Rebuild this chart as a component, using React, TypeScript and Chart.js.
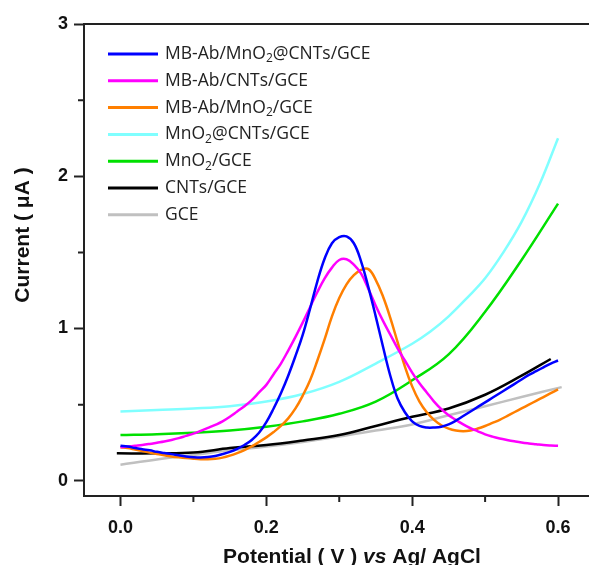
import React, { useEffect, useRef } from "react";
import { Chart, registerables } from "chart.js";

Chart.register(...registerables);

// ---- Data ----
const potentialFine = [
  0.0, 0.01, 0.02, 0.03, 0.04, 0.05, 0.06, 0.07, 0.08, 0.09,
  0.1, 0.11, 0.12, 0.13, 0.14, 0.15, 0.16, 0.17, 0.18, 0.19,
  0.2, 0.21, 0.22, 0.23, 0.24, 0.25, 0.26, 0.27, 0.28, 0.29,
  0.3, 0.31, 0.32, 0.33, 0.34, 0.35, 0.36, 0.37, 0.38, 0.39,
  0.4, 0.41, 0.42, 0.43, 0.44, 0.45, 0.46, 0.47, 0.48, 0.49,
  0.5, 0.51, 0.52, 0.53, 0.54, 0.55, 0.56, 0.57, 0.58, 0.59, 0.6,
];

const mbAbMnO2CntsValues = [
  0.23, 0.225, 0.215, 0.207, 0.2, 0.19, 0.182, 0.175, 0.167, 0.16,
  0.155, 0.153, 0.156, 0.163, 0.175, 0.19, 0.21, 0.235, 0.268, 0.315,
  0.385, 0.475, 0.575, 0.69, 0.82, 0.96, 1.13, 1.31, 1.46, 1.56,
  1.6, 1.605, 1.56, 1.44, 1.27, 1.08, 0.88, 0.69, 0.54, 0.45,
  0.39, 0.36, 0.35, 0.35, 0.355, 0.37, 0.395, 0.425, 0.455, 0.485,
  0.515, 0.545, 0.575, 0.605, 0.635, 0.665, 0.695, 0.72, 0.745, 0.77, 0.79,
];

const mbAbCntsValues = [
  0.22, 0.225, 0.23, 0.235, 0.242, 0.25, 0.258, 0.268, 0.28, 0.295,
  0.31, 0.328, 0.347, 0.367, 0.39, 0.42, 0.455, 0.49, 0.53, 0.58,
  0.63, 0.7, 0.77, 0.855, 0.945, 1.04, 1.14, 1.24, 1.33, 1.4,
  1.45, 1.455, 1.42, 1.36, 1.26, 1.15, 1.05, 0.96, 0.87, 0.79,
  0.71, 0.64, 0.58, 0.52, 0.47, 0.43, 0.4, 0.37, 0.345, 0.325,
  0.305, 0.29, 0.278, 0.268, 0.259, 0.251, 0.245, 0.24, 0.235, 0.232, 0.23,
];

const mbAbMnO2Values = [
  0.22, 0.215, 0.205, 0.195, 0.185, 0.176, 0.168, 0.16, 0.154, 0.149,
  0.145, 0.142, 0.141, 0.144, 0.152, 0.165, 0.182, 0.202, 0.226, 0.255,
  0.285, 0.32, 0.36, 0.41, 0.475, 0.56, 0.66, 0.79, 0.93, 1.08,
  1.2, 1.29, 1.35, 1.385, 1.39, 1.32, 1.21, 1.07, 0.91, 0.75,
  0.62, 0.52, 0.45, 0.4, 0.365, 0.343, 0.33, 0.325, 0.33, 0.343,
  0.36, 0.38, 0.4, 0.425, 0.45, 0.475, 0.5, 0.525, 0.55, 0.575, 0.6,
];

const potentialMnO2Cnts = [0.0, 0.05, 0.1, 0.15, 0.2, 0.25, 0.3, 0.35, 0.4, 0.425, 0.45, 0.475, 0.5, 0.525, 0.55, 0.575, 0.6];
const mnO2CntsValues = [0.455, 0.465, 0.475, 0.49, 0.52, 0.57, 0.65, 0.77, 0.9, 0.98, 1.08, 1.2, 1.33, 1.5, 1.7, 1.95, 2.25];

const potentialMnO2 = [0.0, 0.05, 0.1, 0.15, 0.2, 0.25, 0.3, 0.35, 0.4, 0.45, 0.5, 0.55, 0.6];
const mnO2Values = [0.3, 0.305, 0.315, 0.33, 0.355, 0.39, 0.44, 0.52, 0.66, 0.83, 1.11, 1.45, 1.82];

const potentialCnts = [-0.005, 0.05, 0.1, 0.15, 0.2, 0.25, 0.3, 0.35, 0.4, 0.45, 0.5, 0.55, 0.59];
const cntsValues = [0.18, 0.18, 0.185, 0.215, 0.235, 0.265, 0.3, 0.36, 0.42, 0.475, 0.565, 0.69, 0.8];

const potentialGce = [0.0, 0.05, 0.1, 0.15, 0.2, 0.25, 0.3, 0.35, 0.4, 0.45, 0.5, 0.55, 0.605];
const gceValues = [0.105, 0.14, 0.17, 0.2, 0.225, 0.255, 0.29, 0.33, 0.37, 0.43, 0.49, 0.55, 0.615];

const seriesLabels = [
  "MB-Ab/MnO₂@CNTs/GCE",
  "MB-Ab/CNTs/GCE",
  "MB-Ab/MnO₂/GCE",
  "MnO₂@CNTs/GCE",
  "MnO₂/GCE",
  "CNTs/GCE",
  "GCE",
];
const seriesColors = ["#0000ff", "#ff00ff", "#ff7f00", "#80ffff", "#00e000", "#000000", "#c0c0c0"];

const xMajorTicks = [0.0, 0.2, 0.4, 0.6];
const xMinorTicks = [0.1, 0.3, 0.5];
const yMajorTicks = [0, 1, 2, 3];
const yMinorTicks = [0.5, 1.5, 2.5];

const xTitle = ["Potential ( V ) ", "vs", " Ag/ AgCl"];
const yTitle = "Current ( μA )";

function pairs(xs: number[], ys: number[]) {
  return xs.map((x, i) => ({ x, y: ys[i] }));
}

const AXIS_COLOR = "#222";
const TEXT_COLOR = "#111";
const LEGEND_FONT = '"Open Sans", sans-serif';
const TITLE_FONT = '"Liberation Sans", Arial, sans-serif';

const decorPlugin = {
  id: "decor",
  afterDraw(chart: any) {
    const { ctx, chartArea, scales } = chart;
    const { left, right, top, bottom } = chartArea;
    ctx.save();
    // frame
    ctx.strokeStyle = AXIS_COLOR;
    ctx.lineWidth = 2;
    ctx.strokeRect(left, top, right - left, bottom - top);
    // minor ticks
    ctx.beginPath();
    xMinorTicks.forEach((v) => {
      const px = scales.x.getPixelForValue(v);
      ctx.moveTo(px, bottom);
      ctx.lineTo(px, bottom + 6);
    });
    yMinorTicks.forEach((v) => {
      const py = scales.y.getPixelForValue(v);
      ctx.moveTo(left, py);
      ctx.lineTo(left - 6, py);
    });
    ctx.stroke();

    // legend
    const lx = left + 24;
    const ly = top + 30;
    const rowH = 26.8;
    seriesLabels.forEach((label, i) => {
      const y = ly + i * rowH;
      ctx.strokeStyle = seriesColors[i];
      ctx.lineWidth = 3;
      ctx.beginPath();
      ctx.moveTo(lx, y);
      ctx.lineTo(lx + 50, y);
      ctx.stroke();
      let x = lx + 57;
      ctx.fillStyle = "#222";
      ctx.textBaseline = "middle";
      ctx.textAlign = "left";
      const parts = label.split("₂");
      parts.forEach((p, j) => {
        ctx.font = `17.5px ${LEGEND_FONT}`;
        ctx.fillText(p, x, y);
        x += ctx.measureText(p).width;
        if (j < parts.length - 1) {
          ctx.font = `12px ${LEGEND_FONT}`;
          ctx.fillText("2", x, y + 5);
          x += ctx.measureText("2").width;
        }
      });
    });

    // y title
    ctx.fillStyle = TEXT_COLOR;
    ctx.font = `bold 21px ${TITLE_FONT}`;
    ctx.textAlign = "center";
    ctx.textBaseline = "middle";
    ctx.save();
    ctx.translate(23, 235);
    ctx.rotate(-Math.PI / 2);
    ctx.fillText(yTitle, 0, 0);
    ctx.restore();

    // x title
    const fonts = [`bold 21px ${TITLE_FONT}`, `italic bold 21px ${TITLE_FONT}`, `bold 21px ${TITLE_FONT}`];
    let total = 0;
    xTitle.forEach((t, i) => {
      ctx.font = fonts[i];
      total += ctx.measureText(t).width;
    });
    let tx = 352 - total / 2;
    ctx.textAlign = "left";
    ctx.textBaseline = "alphabetic";
    xTitle.forEach((t, i) => {
      ctx.font = fonts[i];
      ctx.fillText(t, tx, 563);
      tx += ctx.measureText(t).width;
    });
    ctx.restore();
  },
};

export default function App() {
  const canvasRef = useRef<HTMLCanvasElement | null>(null);

  useEffect(() => {
    if (!canvasRef.current) return;
    const seriesData = [
      pairs(potentialFine, mbAbMnO2CntsValues),
      pairs(potentialFine, mbAbCntsValues),
      pairs(potentialFine, mbAbMnO2Values),
      pairs(potentialMnO2Cnts, mnO2CntsValues),
      pairs(potentialMnO2, mnO2Values),
      pairs(potentialCnts, cntsValues),
      pairs(potentialGce, gceValues),
    ];
    const tickFont = { family: TITLE_FONT, size: 18, weight: "bold" as const };
    const chart = new Chart(canvasRef.current, {
      type: "line",
      data: {
        datasets: seriesData.map((d, i) => ({
          label: seriesLabels[i],
          data: d,
          borderColor: seriesColors[i],
          backgroundColor: seriesColors[i],
          borderWidth: 2.5,
          pointRadius: 0,
          fill: false,
          tension: 0.4,
        })),
      },
      options: {
        animation: false,
        responsive: false,
        devicePixelRatio: 1,
        layout: { padding: { top: 24, right: 5.5, bottom: 0, left: 0 } },
        plugins: { legend: { display: false }, tooltip: { enabled: false } },
        scales: {
          x: {
            type: "linear",
            min: -0.05,
            max: 0.65,
            afterBuildTicks: (scale: any) => {
              scale.ticks = xMajorTicks.map((v) => ({ value: v }));
            },
            afterFit: (scale: any) => {
              scale.height = 69;
            },
            ticks: {
              callback: (v: any) => Number(v).toFixed(1),
              font: tickFont,
              color: TEXT_COLOR,
              padding: 11,
              maxRotation: 0,
            },
            grid: { display: true, drawOnChartArea: false, drawTicks: true, tickLength: 10, tickWidth: 2, tickColor: AXIS_COLOR },
            border: { display: false },
          },
          y: {
            type: "linear",
            min: -0.1,
            max: 3,
            afterBuildTicks: (scale: any) => {
              scale.ticks = yMajorTicks.map((v) => ({ value: v }));
            },
            afterFit: (scale: any) => {
              scale.width = 84;
            },
            ticks: {
              callback: (v: any) => String(v),
              font: tickFont,
              color: TEXT_COLOR,
              padding: 6,
            },
            grid: { display: true, drawOnChartArea: false, drawTicks: true, tickLength: 10, tickWidth: 2, tickColor: AXIS_COLOR },
            border: { display: false },
          },
        },
      },
      plugins: [decorPlugin],
    });
    return () => chart.destroy();
  }, []);

  return (
    <div style={{ position: "fixed", left: 0, top: 0, width: 589, height: 565, overflow: "hidden", background: "#fff" }}>
      <canvas ref={canvasRef} width={600} height={565} style={{ display: "block", width: 600, height: 565 }} />
    </div>
  );
}
